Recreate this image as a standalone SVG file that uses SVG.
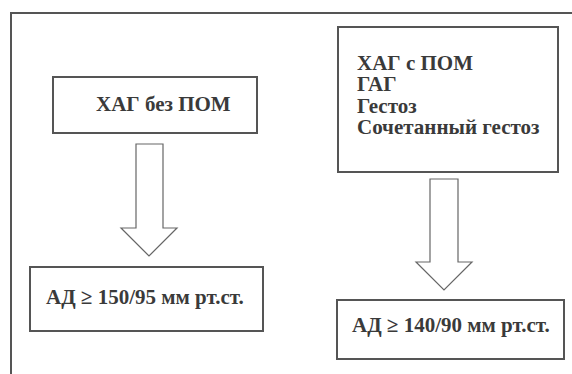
<svg xmlns="http://www.w3.org/2000/svg" width="572" height="374" viewBox="0 0 572 374">
<style>
.box{fill:#fff;stroke:#555;stroke-width:2}
.arr{fill:#fff;stroke:#666;stroke-width:1.2;stroke-linejoin:miter}
.t{font-family:'Liberation Serif','DejaVu Serif',serif;font-weight:bold;font-size:21px;fill:#3a3a3a}
</style>
<rect width="572" height="374" fill="#fff"/>
<rect x="11" y="13" width="620" height="420" fill="none" stroke="#555" stroke-width="2"/>
<g id="n1">
<rect class="box" x="53" y="77" width="204" height="56"/>
<text class="t" x="96" y="111">ХАГ без ПОМ</text>
</g>
<g id="n2">
<rect class="box" x="338" y="27" width="220" height="145"/>
<text class="t" x="357" y="70">ХАГ с ПОМ</text>
<text class="t" x="357" y="91">ГАГ</text>
<text class="t" x="357" y="113">Гестоз</text>
<text class="t" x="357" y="134">Сочетанный гестоз</text>
</g>
<g id="n3">
<rect class="box" x="30" y="267" width="233" height="64"/>
<text class="t" x="46" y="304">АД ≥ 150/95 мм рт.ст.</text>
</g>
<g id="n4">
<rect class="box" x="337" y="300" width="227" height="59"/>
<text class="t" x="352" y="332">АД ≥ 140/90 мм рт.ст.</text>
</g>
<g id="connectors">
<path class="arr" d="M136,144 H163 V228 H177 L149,256 L121,228 H136 Z"/>
<path class="arr" d="M430,179 H458 V262 H472 L444,290 L416,262 H430 Z"/>
</g>
</svg>
